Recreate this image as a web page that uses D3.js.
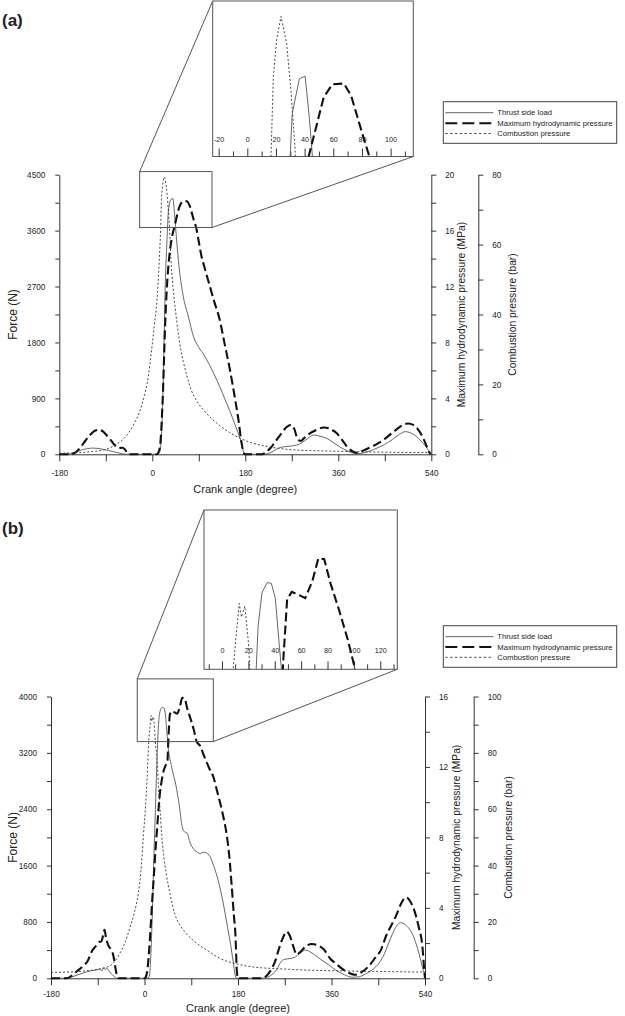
<!DOCTYPE html>
<html><head><meta charset="utf-8">
<script src="https://cdn.jsdelivr.net/npm/d3@7"></script>
<style>
body{margin:0;background:#fff}
svg{display:block}
text{font-family:"Liberation Sans",Arial,Helvetica,sans-serif;fill:#222}
.insetLabels{opacity:0.99}
</style>
</head><body>
<svg id="chart" width="625" height="1016"></svg>
<script>
// ---------------- DATA ----------------
const legendLabels = ["Thrust side load", "Maximum hydrodynamic pressure", "Combustion pressure"];
const xTickValues = [-180, 0, 180, 360, 540];

const a_forceTicks = [0, 900, 1800, 2700, 3600, 4500];
const a_hydroTicks = [0, 4, 8, 12, 16, 20];
const a_combTicks = [0, 20, 40, 60, 80];
const a_insetTicks = [-20, 0, 20, 40, 60, 80, 100];

const b_forceTicks = [0, 800, 1600, 2400, 3200, 4000];
const b_hydroTicks = [0, 4, 8, 12, 16];
const b_combTicks = [0, 20, 40, 60, 80, 100];
const b_insetTicks = [0, 20, 40, 60, 80, 100, 120];

// [crank angle (deg), thrust side load (N)]
const a_thrust = [[-180,0],[-165,0],[-155,15],[-145,45],[-135,75],[-125,92],[-115,100],[-105,95],[-95,80],[-85,62],[-75,42],[-65,22],[-58,8],[-50,0],[0,0],[10,0],[14,30],[17,200],[20,800],[22,1500],[25,2700],[29,3550],[31,3900],[36,4100],[40,4115],[43,3870],[47,3450],[52,3000],[60,2540],[70,2210],[80,1890],[90,1720],[100,1600],[110,1450],[120,1280],[130,1100],[140,900],[150,700],[160,480],[170,250],[179,5],[185,0],[210,0],[220,5],[230,30],[240,80],[250,115],[265,130],[280,150],[290,190],[300,250],[312,310],[325,290],[338,255],[350,190],[363,120],[375,65],[385,30],[395,10],[405,15],[420,50],[435,100],[450,160],[465,240],[478,320],[490,365],[500,345],[510,295],[520,215],[530,120],[537,30],[540,10]];
// [crank angle, max hydrodynamic pressure (MPa)]
const a_hydro = [[-180,0],[-160,0],[-150,0.1],[-140,0.45],[-130,0.95],[-120,1.4],[-110,1.7],[-102,1.75],[-95,1.62],[-88,1.35],[-80,1.0],[-72,0.62],[-65,0.45],[-58,0.47],[-53,0.35],[-48,0.08],[-45,0],[0,0],[8,0],[12,0.15],[15,0.6],[17,1.5],[19,3.0],[21,4.8],[23,7.2],[25,9.4],[28,11.8],[31,13.4],[35,14.8],[39,15.7],[43,16.3],[53,17.75],[59,18.08],[67,18.1],[72,17.8],[80,16.8],[85,16.2],[90,15.2],[95,14.2],[100,13.5],[110,12.2],[120,10.9],[130,9.7],[140,7.9],[150,6.1],[160,4.0],[167,2.4],[172,1.0],[177,0.1],[180,0],[212,0],[220,0.15],[230,0.5],[240,1.0],[250,1.5],[260,1.95],[268,2.1],[275,1.8],[281,1.1],[287,0.95],[295,1.2],[305,1.5],[318,1.75],[332,1.92],[345,1.8],[357,1.5],[368,1.0],[378,0.5],[388,0.2],[398,0.1],[410,0.3],[425,0.55],[440,0.85],[455,1.25],[470,1.7],[485,2.1],[495,2.2],[505,2.1],[515,1.75],[525,1.1],[533,0.4],[538,0]];
// [crank angle, combustion pressure (bar)]
const a_comb = [[-180,0.3],[-140,0.5],[-110,0.9],[-90,1.4],[-70,2.8],[-55,4.5],[-45,6.3],[-35,8.8],[-25,12],[-15,17],[-8,22],[-2,29],[4,37],[9,44],[13,54],[16.2,64.9],[17.8,73],[20.1,76.9],[23.2,79.3],[27.1,76.5],[30.1,71.7],[32.9,65.9],[36,56],[40,48],[45,41],[50,35],[55,30],[60,26.5],[66,23],[75,18.5],[85,15.5],[100,12.5],[115,10.2],[130,8.3],[150,6.2],[170,4.6],[190,3.4],[210,2.6],[240,1.8],[270,1.3],[320,1.0],[380,0.8],[450,0.6],[540,0.5]];

const b_thrust = [[-180,0],[-160,0],[-150,5],[-140,20],[-130,45],[-120,70],[-110,95],[-100,110],[-92,120],[-86,130],[-82,105],[-79,150],[-76,125],[-72,140],[-68,100],[-62,50],[-56,10],[-52,0],[5,0],[9,20],[12,300],[15,900],[18,1700],[21,2400],[24,3100],[27,3600],[30,3790],[34,3845],[37,3840],[40,3760],[43,3500],[46,3250],[52,3010],[62,2680],[67,2450],[72,2170],[77,2080],[82,2060],[88,1920],[95,1830],[100,1800],[107,1770],[113,1790],[119,1780],[126,1730],[133,1600],[140,1440],[147,1230],[153,1010],[160,720],[166,470],[171,220],[175,30],[178,0],[225,0],[235,10],[245,50],[255,130],[262,230],[270,270],[280,280],[290,300],[300,360],[310,400],[320,370],[330,320],[340,265],[355,190],[368,118],[385,50],[400,15],[412,20],[425,60],[440,130],[452,220],[462,350],[470,500],[478,640],[485,740],[493,790],[502,760],[510,700],[518,590],[525,440],[531,280],[536,130],[540,40]];
const b_hydro = [[-180,0],[-150,0],[-140,0.15],[-130,0.4],[-120,0.65],[-110,0.95],[-100,1.6],[-93,1.85],[-88,2.05],[-83,2.1],[-80,2.4],[-77,2.75],[-74,2.3],[-70,1.9],[-65,1.65],[-60,1.3],[-56,0.6],[-52,0.05],[-50,0],[0,0],[3,0.1],[6,0.6],[9,1.6],[12,3.0],[15,4.5],[18,5.8],[21,7.2],[24,8.4],[27,9.6],[30,10.6],[33,11.2],[37,11.8],[41,12.1],[44,12.3],[46,13.6],[49,15.0],[52.5,15.17],[58,15.1],[62.7,15.03],[68,15.4],[72.7,15.92],[77.1,15.9],[82,15.35],[88.4,14.76],[95,14.1],[100.5,13.44],[107,13.2],[115,12.6],[125,11.9],[133,11.4],[140,10.6],[147,9.8],[153,9.0],[158,8.2],[163,7.0],[168,5.2],[172,3.6],[175,2.5],[178,0.3],[180,0],[225,0],[235,0.15],[245,0.55],[252,1.0],[258,1.6],[265,2.2],[274,2.65],[280,2.4],[286,1.85],[293,1.35],[300,1.5],[310,1.8],[322,1.95],[335,1.85],[345,1.65],[358,1.1],[368,0.85],[380,0.55],[394,0.3],[405,0.2],[418,0.35],[432,0.7],[445,1.2],[455,1.6],[465,2.4],[475,3.0],[485,3.6],[495,4.3],[503,4.6],[512,4.35],[520,3.8],[528,2.9],[535,1.8],[539,0.3],[540,0]];
const b_comb = [[-180,2.1],[-150,2.2],[-127,2.4],[-100,2.9],[-80,3.6],[-66,4.5],[-55,6.5],[-47,9],[-38,12.5],[-28,18],[-20,23],[-12,30],[-6,40],[-2,51],[2,61],[5,71],[8.1,84],[10.5,89],[12.7,93.2],[14.4,91.3],[17,92.8],[19.5,88.1],[20.8,84],[24,78],[27,68],[30.3,59],[33,51],[36.7,44],[42,37],[49.6,29.5],[58,23],[68,19],[80,16],[100,12.5],[120,10],[146,7],[180,5],[210,4],[258,3.4],[300,3],[387,2.6],[460,2.4],[540,2.2]];

// ---------------- DRAW ----------------
const svg = d3.select("#chart");
const AXIS = "#333";

const panels = [
  {
    label: "(a)", labelY: 26,
    x0: 59.3, x1: 431.3, yTop: 174.7, yBot: 454.3,
    fMax: 4500, hMax: 20, cMax: 80,
    fTicks: a_forceTicks, hTicks: a_hydroTicks, cTicks: a_combTicks,
    combAxisX: 478.3,
    thrust: a_thrust, hydro: a_hydro, comb: a_comb,
    inset: {xDom: [-24.5, 115.5], fDom: [3650, 4550], box: [212.7, 1, 413.3, 156.5], ticks: a_insetTicks, labelY: 139.5},
    legendBox: [443.3, 101.7, 616.7, 143.3], legendRows: [112.7, 123.2, 133.5],
    xLabelPad: 9, crankY: 489, hydroTitleX: 461, combTitleX: 512.7
  },
  {
    label: "(b)", labelY: 534,
    x0: 51, x1: 425, yTop: 696.5, yBot: 978.3,
    fMax: 4000, hMax: 16, cMax: 100,
    fTicks: b_forceTicks, hTicks: b_hydroTicks, cTicks: b_combTicks,
    combAxisX: 473.7,
    thrust: b_thrust, hydro: b_hydro, comb: b_comb,
    inset: {xDom: [-14, 132.5], fDom: [3360, 4250], box: [204, 510, 397.3, 669.3], ticks: b_insetTicks, labelY: 650.7},
    legendBox: [443.3, 625.7, 616.7, 667.3], legendRows: [636.7, 647.0, 657.3],
    xLabelPad: 6, crankY: 1008, hydroTitleX: 456.7, combTitleX: 508
  }
];

const styles = {
  thrust: {stroke: "#555", width: 0.9, dash: null},
  hydro: {stroke: "#111", width: 2.1, dash: "9,4"},
  comb: {stroke: "#333", width: 0.9, dash: "2,2"}
};

function halfSteps(ticks) {
  const out = [];
  for (let i = 0; i < ticks.length; i++) {
    out.push(ticks[i]);
    if (i < ticks.length - 1) out.push((ticks[i] + ticks[i + 1]) / 2);
  }
  return out;
}

function styleAxis(g) {
  g.selectAll("path").attr("stroke", AXIS).attr("stroke-width", 1);
  g.selectAll("line").attr("stroke", AXIS).attr("stroke-width", 1);
  g.selectAll("text").attr("font-size", 8.2).attr("fill", "#222")
    .attr("font-family", '"Liberation Sans",Arial,sans-serif');
}

panels.forEach((p, pi) => {
  const g = svg.append("g");
  const x = d3.scaleLinear().domain([-180, 540]).range([p.x0, p.x1]);
  const yF = d3.scaleLinear().domain([0, p.fMax]).range([p.yBot, p.yTop]);
  const yH = d3.scaleLinear().domain([0, p.hMax]).range([p.yBot, p.yTop]);
  const yC = d3.scaleLinear().domain([0, p.cMax]).range([p.yBot, p.yTop]);

  // Axes
  const fT = p.fTicks;
  g.append("g").attr("transform", `translate(${p.x0},0)`)
    .call(d3.axisLeft(yF).tickValues(halfSteps(fT)).tickSize(4).tickPadding(10).tickSizeOuter(0)
      .tickFormat(d => fT.includes(d) ? d : ""))
    .call(styleAxis);
  g.append("g").attr("transform", `translate(${p.x1},0)`)
    .call(d3.axisRight(yH).tickValues(halfSteps(p.hTicks)).tickSize(5).tickPadding(9).tickSizeOuter(0)
      .tickFormat(d => p.hTicks.includes(d) ? d : ""))
    .call(styleAxis);
  g.append("g").attr("transform", `translate(${p.combAxisX},0)`)
    .call(d3.axisRight(yC).tickValues(halfSteps(p.cTicks)).tickSize(5).tickPadding(9).tickSizeOuter(0)
      .tickFormat(d => p.cTicks.includes(d) ? d : ""))
    .call(styleAxis);
  g.append("g").attr("transform", `translate(0,${p.yBot})`)
    .call(d3.axisBottom(x).tickValues(halfSteps(xTickValues)).tickSize(7).tickPadding(p.xLabelPad).tickSizeOuter(0)
      .tickFormat(d => xTickValues.includes(d) ? d : ""))
    .call(styleAxis);

  // Titles
  const midY = (p.yTop + p.yBot) / 2;
  g.append("text").attr("transform", `translate(13,${midY}) rotate(-90)`)
    .attr("text-anchor", "middle").attr("dominant-baseline", "central")
    .attr("font-size", 12).text("Force (N)");
  g.append("text").attr("transform", `translate(${p.hydroTitleX},${midY}) rotate(-90)`)
    .attr("text-anchor", "middle").attr("dominant-baseline", "central")
    .attr("font-size", 10.3).text("Maximum hydrodynamic pressure (MPa)");
  g.append("text").attr("transform", `translate(${p.combTitleX},${midY}) rotate(-90)`)
    .attr("text-anchor", "middle").attr("dominant-baseline", "central")
    .attr("font-size", 10.3).text("Combustion pressure (bar)");
  g.append("text").attr("x", (p.x0 + p.x1) / 2).attr("y", p.crankY)
    .attr("text-anchor", "middle").attr("dominant-baseline", "central")
    .attr("font-size", 11).text("Crank angle (degree)");
  g.append("text").attr("x", 2).attr("y", p.labelY)
    .attr("font-size", 17).attr("font-weight", "bold").text(p.label);

  // Main lines
  const series = [
    {key: "thrust", data: p.thrust, y: yF, max: p.fMax},
    {key: "hydro", data: p.hydro, y: yH, max: p.hMax},
    {key: "comb", data: p.comb, y: yC, max: p.cMax}
  ];
  series.forEach(s => {
    const st = styles[s.key];
    g.append("path").datum(s.data)
      .attr("fill", "none").attr("stroke", st.stroke).attr("stroke-width", st.width)
      .attr("stroke-dasharray", st.dash)
      .attr("d", d3.line().x(d => x(d[0])).y(d => s.y(d[1])).curve(d3.curveMonotoneX));
  });

  // Zoom box on main chart
  const ins = p.inset;
  const bx0 = x(ins.xDom[0]), bx1 = x(ins.xDom[1]);
  const by0 = yF(ins.fDom[1]), by1 = yF(ins.fDom[0]);
  g.append("rect").attr("x", bx0).attr("y", by0).attr("width", bx1 - bx0).attr("height", by1 - by0)
    .attr("fill", "none").attr("stroke", "#555").attr("stroke-width", 1);
  const [ix0, iy0, ix1, iy1] = ins.box;
  g.append("line").attr("x1", bx0).attr("y1", by0).attr("x2", ix0).attr("y2", iy0)
    .attr("stroke", "#555").attr("stroke-width", 1);
  g.append("line").attr("x1", bx1).attr("y1", by1).attr("x2", ix1).attr("y2", iy1)
    .attr("stroke", "#555").attr("stroke-width", 1);

  // Inset
  const ig = g.append("g");
  ig.append("rect").attr("x", ix0).attr("y", iy0).attr("width", ix1 - ix0).attr("height", iy1 - iy0)
    .attr("fill", "#fff").attr("stroke", "#555").attr("stroke-width", 1);
  const ixs = d3.scaleLinear().domain(ins.xDom).range([ix0, ix1]);
  const clipId = "clip" + pi;
  svg.append("defs").append("clipPath").attr("id", clipId)
    .append("rect").attr("x", ix0).attr("y", iy0).attr("width", ix1 - ix0).attr("height", iy1 - iy0);
  // inset ticks
  const minorT = [];
  for (let v = ins.ticks[0] - 10; v <= ins.ticks[ins.ticks.length - 1] + 10; v += 10) minorT.push(v);
  const tg = ig.append("g").attr("class", "insetLabels");
  tg.selectAll("line").data(minorT.filter(v => ixs(v) > ix0 + 0.5 && ixs(v) < ix1 - 0.5)).join("line")
    .attr("x1", d => ixs(d)).attr("x2", d => ixs(d))
    .attr("y1", d => ins.ticks.includes(d) ? iy1 - 8 : iy1 - 5).attr("y2", iy1)
    .attr("stroke", AXIS).attr("stroke-width", 1);
  tg.selectAll("text").data(ins.ticks).join("text")
    .attr("x", d => ixs(d)).attr("y", ins.labelY)
    .attr("text-anchor", "middle").attr("dominant-baseline", "central")
    .attr("font-size", 7.2).attr("fill", "#222").text(d => d);
  const lg = ig.append("g").attr("clip-path", `url(#${clipId})`);
  series.forEach(s => {
    const st = styles[s.key];
    const f2v = s.max / p.fMax;
    const iy = d3.scaleLinear().domain([ins.fDom[0] * f2v, ins.fDom[1] * f2v]).range([iy1, iy0]);
    lg.append("path").datum(s.data)
      .attr("fill", "none").attr("stroke", st.stroke).attr("stroke-width", st.width)
      .attr("stroke-dasharray", st.dash)
      .attr("d", d3.line().x(d => ixs(d[0])).y(d => iy(d[1])));
  });

  // Legend
  const [lx0, ly0, lx1, ly1] = p.legendBox;
  const leg = g.append("g");
  leg.append("rect").attr("x", lx0).attr("y", ly0).attr("width", lx1 - lx0).attr("height", ly1 - ly0)
    .attr("fill", "#fff").attr("stroke", "#444").attr("stroke-width", 1);
  ["thrust", "hydro", "comb"].forEach((k, i) => {
    const st = styles[k];
    const yy = p.legendRows[i];
    leg.append("line").attr("x1", lx0 + 2).attr("x2", lx0 + 50).attr("y1", yy).attr("y2", yy)
      .attr("stroke", st.stroke).attr("stroke-width", k === "hydro" ? 2.1 : 0.9)
      .attr("stroke-dasharray", k === "hydro" ? "12,5" : (k === "comb" ? "2.4,2.4" : null));
    leg.append("text").attr("x", lx0 + 54).attr("y", yy).attr("dominant-baseline", "central")
      .attr("font-size", 7.7).text(legendLabels[i]);
  });
});
</script>
</body></html>
